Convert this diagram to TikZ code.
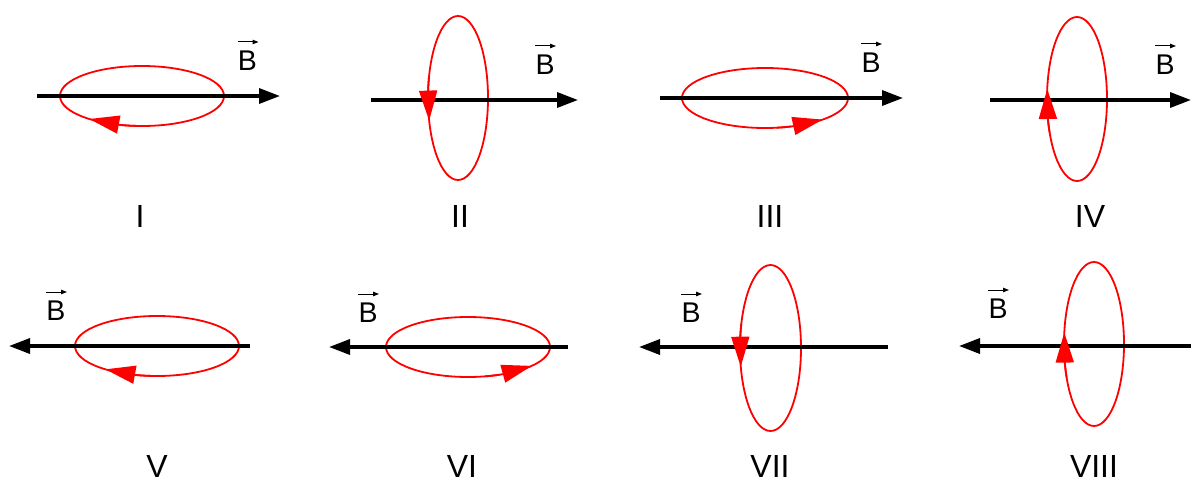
\documentclass[tikz,border=0pt]{standalone}
\usepackage{fontspec}
\setmainfont{Liberation Sans}
\usetikzlibrary{arrows.meta,bending}
\tikzset{
  field/.style={line width=3.4pt,-{Triangle[length=21pt,width=15pt]}},
  loop/.style={red,line width=1.8pt},
  looparrow/.style={red,line width=1.8pt,-{Triangle[length=30pt,width=18pt,flex]}},
  numlab/.style={font=\fontsize{32pt}{36pt}\selectfont,inner sep=0pt},
  blab/.style={font=\fontsize{28.5pt}{32pt}\selectfont,inner sep=0pt},
  vecarrow/.style={line width=1pt,-{Triangle[length=6pt,width=4.5pt]}}
}
\newcommand\Blab[2]{%
  \node[blab] (#1) at (#2) {B};
  \coordinate (#1l) at ([xshift=-10pt,yshift=9pt]#1.north);
  \coordinate (#1r) at ([xshift=11pt,yshift=9pt]#1.north);
  \draw[vecarrow] (#1l) -- (#1r);
}
\begin{document}
\begin{tikzpicture}[x=1pt,y=1pt]
\useasboundingbox (0,0) rectangle (1191,-482);
% ---------- I
\coordinate (aI) at (37,-96); \coordinate (bI) at (280,-96);
\draw[loop] (142,-96) ellipse[x radius=82,y radius=30];
\draw[field] (aI) -- (bI);
\draw[looparrow] (142,-96) ++(268:82 and 30) arc[start angle=268,end angle=230,x radius=82,y radius=30];
\Blab{BI}{247.5,-61}
\node[numlab] (nI) at (140,-216) {I};
% ---------- II
\coordinate (aII) at (371,-100); \coordinate (bII) at (578,-100);
\draw[loop] (458,-98) ellipse[x radius=30,y radius=82];
\draw[field] (aII) -- (bII);
\draw[looparrow] (458,-98) ++(165:30 and 82) arc[start angle=165,end angle=196,x radius=30,y radius=82];
\Blab{BII}{545,-65}
\node[numlab] (nII) at (460,-216) {II};
% ---------- III
\coordinate (aIII) at (660,-98); \coordinate (bIII) at (903,-98);
\draw[loop] (765,-98) ellipse[x radius=83,y radius=30];
\draw[field] (aIII) -- (bIII);
\draw[looparrow] (765,-98) ++(278:83 and 30) arc[start angle=278,end angle=314,x radius=83,y radius=30];
\Blab{BIII}{871,-63}
\node[numlab] (nIII) at (770,-216) {III};
% ---------- IV
\coordinate (aIV) at (990,-100); \coordinate (bIV) at (1191,-100);
\draw[loop] (1077,-99) ellipse[x radius=30,y radius=82];
\draw[field] (aIV) -- (bIV);
\draw[looparrow] (1077,-99) ++(204:30 and 82) arc[start angle=204,end angle=173,x radius=30,y radius=82];
\Blab{BIV}{1165,-65}
\node[numlab] (nIV) at (1090,-216) {IV};
% ---------- V
\coordinate (aV) at (250,-346); \coordinate (bV) at (9,-346);
\draw[loop] (157,-346) ellipse[x radius=82,y radius=30];
\draw[field] (aV) -- (bV);
\draw[looparrow] (157,-346) ++(268:82 and 30) arc[start angle=268,end angle=231,x radius=82,y radius=30];
\Blab{BV}{56,-311}
\node[numlab] (nV) at (157,-466) {V};
% ---------- VI
\coordinate (aVI) at (568,-347); \coordinate (bVI) at (329,-347);
\draw[loop] (468,-347) ellipse[x radius=82,y radius=30];
\draw[field] (aVI) -- (bVI);
\draw[looparrow] (468,-347) ++(282:82 and 30) arc[start angle=282,end angle=321,x radius=82,y radius=30];
\Blab{BVI}{368,-313}
\node[numlab] (nVI) at (462,-466) {VI};
% ---------- VII
\coordinate (aVII) at (888,-347); \coordinate (bVII) at (639,-347);
\draw[loop] (770.5,-348) ellipse[x radius=30.5,y radius=83];
\draw[field] (aVII) -- (bVII);
\draw[looparrow] (770.5,-348) ++(163:30.5 and 83) arc[start angle=163,end angle=193,x radius=30.5,y radius=83];
\Blab{BVII}{691,-313}
\node[numlab] (nVII) at (770,-466) {VII};
% ---------- VIII
\coordinate (aVIII) at (1191,-346); \coordinate (bVIII) at (959,-346);
\draw[loop] (1094,-344) ellipse[x radius=30,y radius=82];
\draw[field] (aVIII) -- (bVIII);
\draw[looparrow] (1094,-344) ++(204:30 and 82) arc[start angle=204,end angle=172,x radius=30,y radius=82];
\Blab{BVIII}{998,-309}
\node[numlab] (nVIII) at (1094,-466) {VIII};
\end{tikzpicture}
\end{document}
